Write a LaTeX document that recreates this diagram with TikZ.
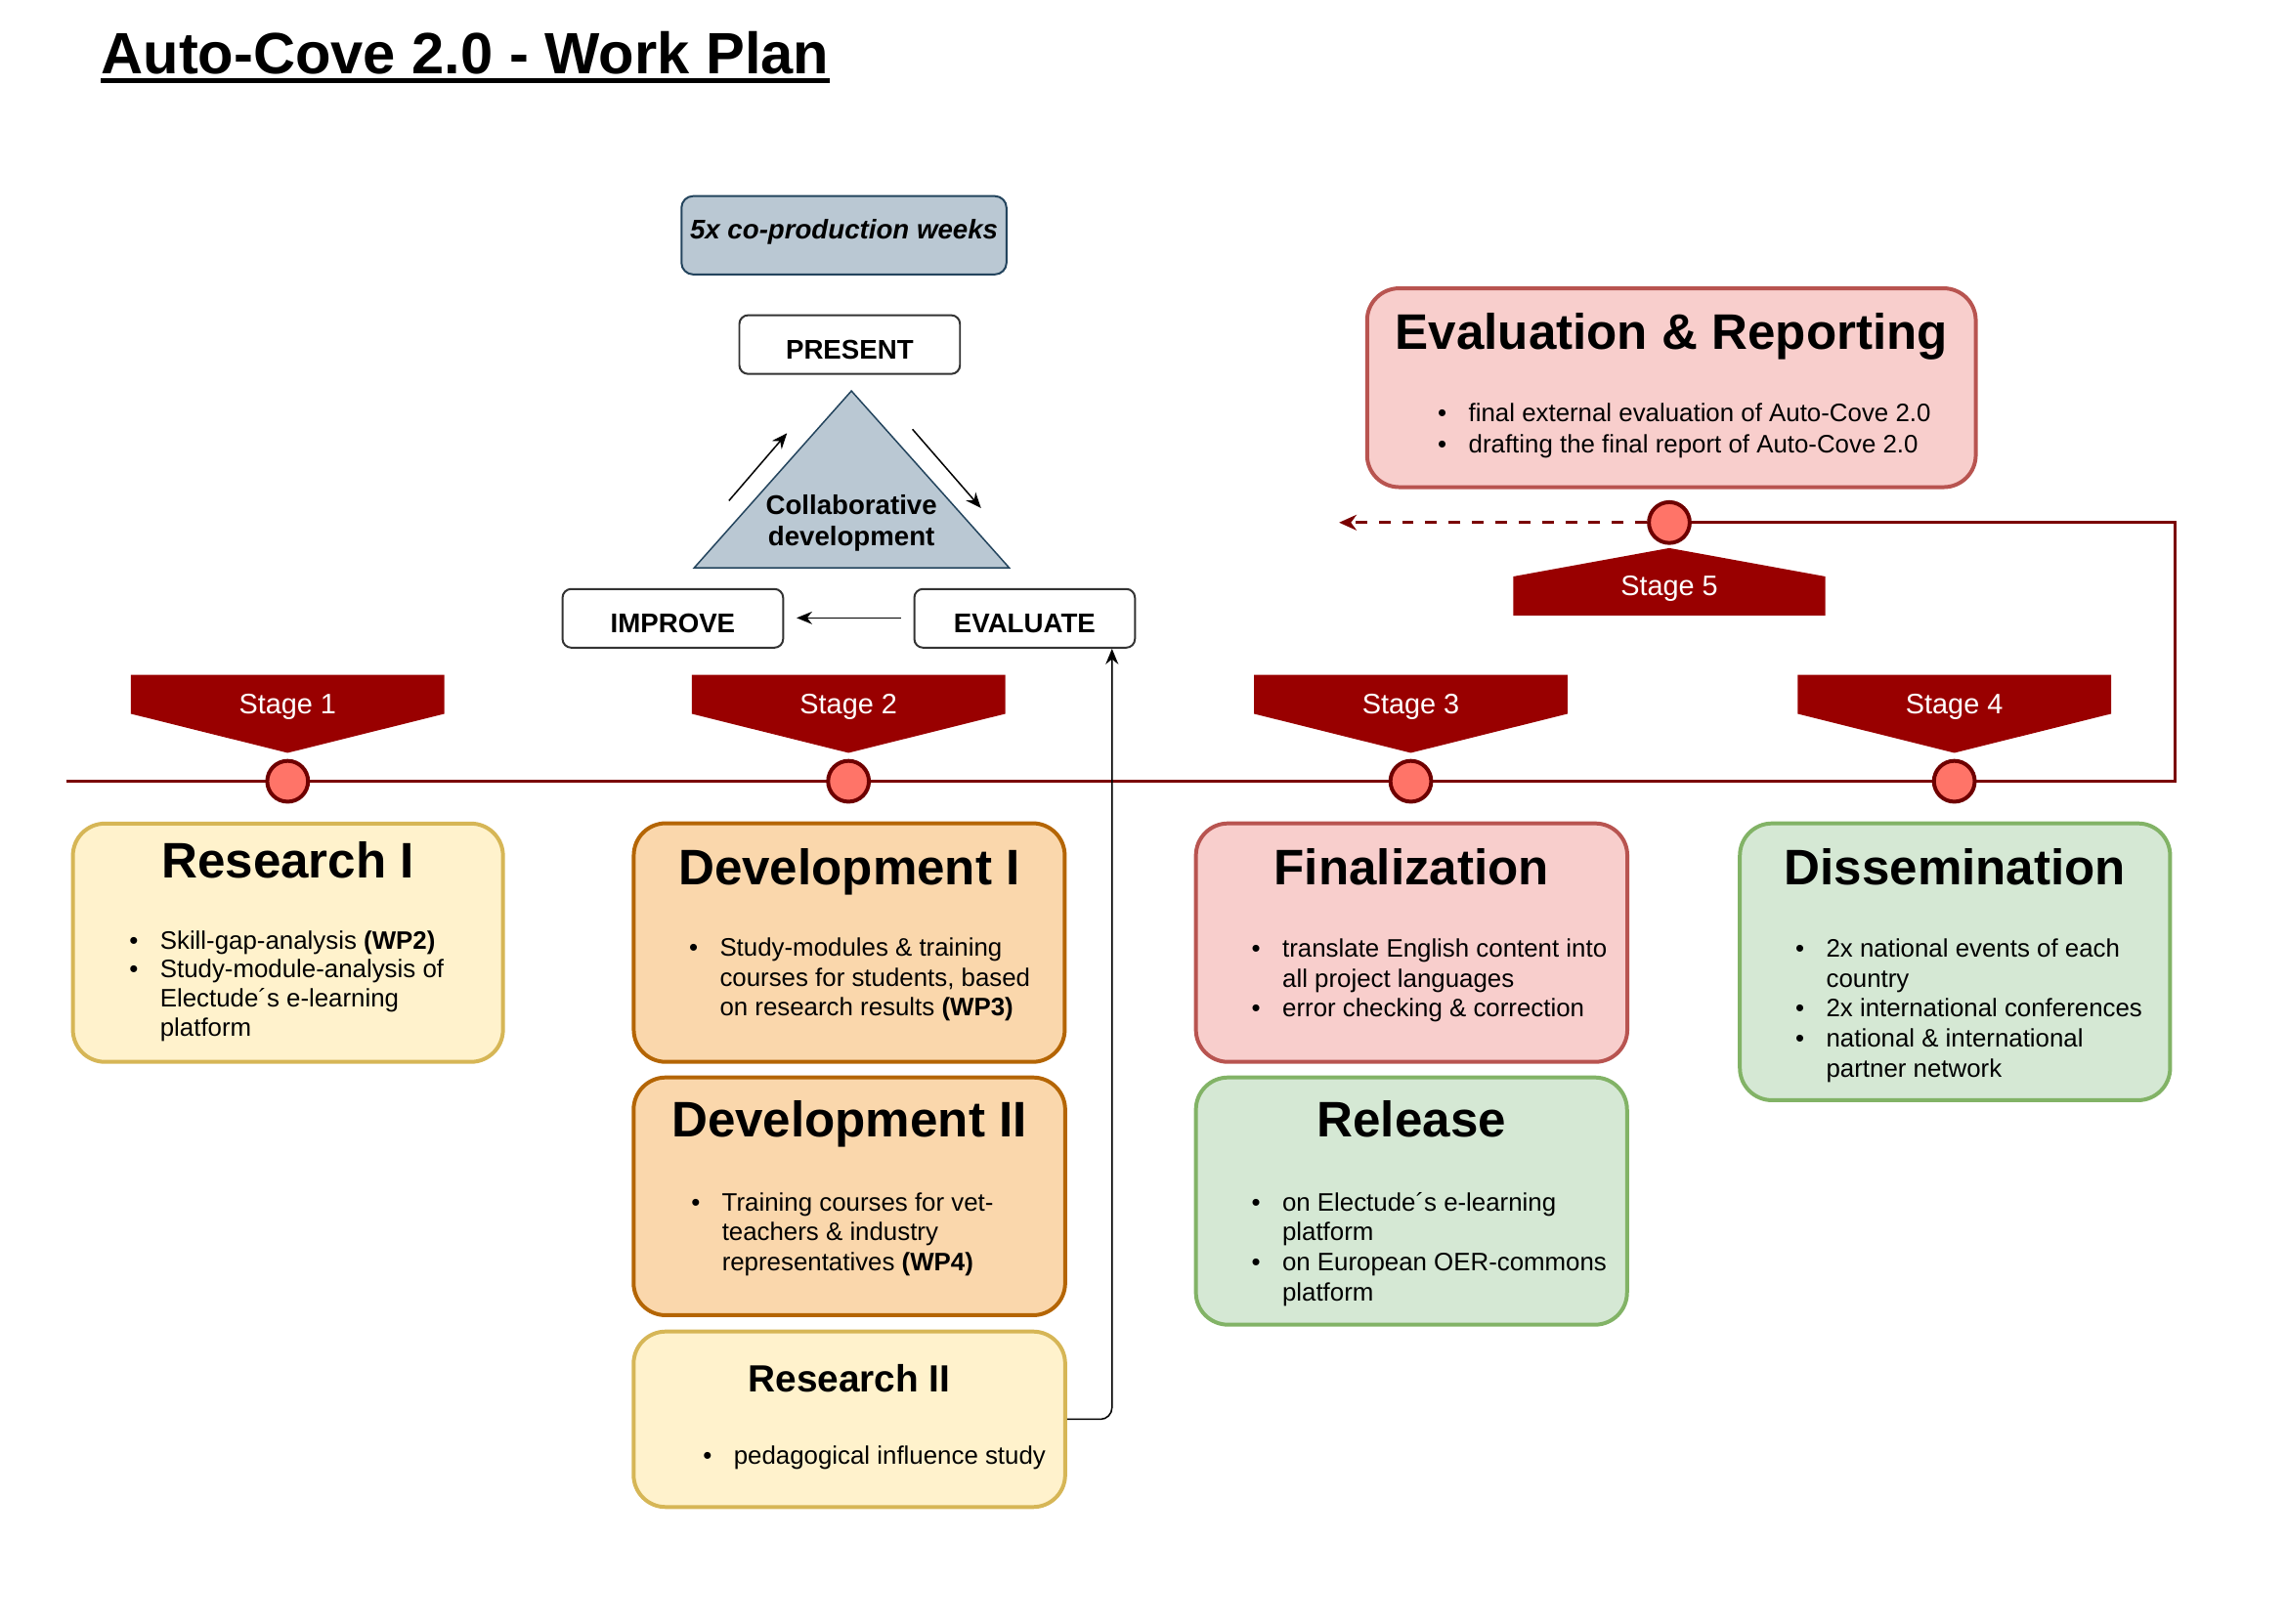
\documentclass[tikz,border=0pt]{standalone}
\usepackage{fontspec}
\setmainfont{Liberation Sans}
\usetikzlibrary{arrows.meta,fit,positioning}

\definecolor{stageRed}{HTML}{990000}
\definecolor{lineRed}{HTML}{7A0000}
\definecolor{dotFill}{HTML}{FF7468}
\definecolor{dotDraw}{HTML}{6F0000}
\definecolor{yellowFill}{HTML}{FFF2CC}
\definecolor{yellowDraw}{HTML}{D6B656}
\definecolor{orangeFill}{HTML}{FAD7AC}
\definecolor{orangeDraw}{HTML}{B46504}
\definecolor{redFill}{HTML}{F8CECC}
\definecolor{redDraw}{HTML}{B85450}
\definecolor{greenFill}{HTML}{D5E8D4}
\definecolor{greenDraw}{HTML}{82B366}
\definecolor{blueFill}{HTML}{BAC8D3}
\definecolor{blueDraw}{HTML}{23445D}

\newcommand\stageTop{463}
\newcommand\stageSide{489.7}
\newcommand\stageTip{516.5}
\newcommand\stageHalf{107.5}
\newcommand\timelineY{536}

\tikzset{
	timeLine/.style={draw=lineRed, line width=1.5pt},
	markerDot/.style={circle, fill=dotFill, draw=dotDraw, line width=2pt, minimum size=21pt, inner sep=0pt},
	stageLabel/.style={text=white, font=\fontsize{14.5}{17}\selectfont, anchor=base, inner sep=0pt},
	workBox/.style={rounded corners=16.5pt, line width=2pt, inner sep=0pt},
	boxYellow/.style={workBox, fill=yellowFill, draw=yellowDraw},
	boxOrange/.style={workBox, fill=orangeFill, draw=orangeDraw},
	boxRed/.style={workBox, fill=redFill, draw=redDraw},
	boxGreen/.style={workBox, fill=greenFill, draw=greenDraw},
	boxTitle/.style={font=\bfseries\fontsize{25.7}{30}\selectfont, anchor=base, inner sep=0pt},
	bulletText/.style={anchor=base west, inner sep=0pt},
	cycleBox/.style={draw=black!80, fill=white, rounded corners=4.5pt, line width=1pt, minimum width=113.5pt, minimum height=30.2pt, inner sep=0pt, font=\bfseries\fontsize{13.9}{16}\selectfont, text height=15pt, text depth=0pt},
	cycleArrow/.style={-{Stealth[length=8pt,width=6.5pt]}, line width=0.75pt},
}

\newcommand\bulletList[2]{{\fontsize{13}{#1}\selectfont\begin{tabular}[t]{@{}p{15.8pt}@{}l@{}}#2\end{tabular}}}

\newcommand\drawStageBanners{
	\foreach \x/\n in {197.3/1,582/2,967.7/3,1340.5/4}{
		\fill[stageRed] (\x-\stageHalf,\stageTop) -- (\x+\stageHalf,\stageTop) -- (\x+\stageHalf,\stageSide) -- (\x,\stageTip) -- (\x-\stageHalf,\stageSide) -- cycle;
		\node[stageLabel] (stage\n) at (\x,490) {Stage \n};
		\node[markerDot] (dot\n) at (\x,\timelineY) {};
	}
}

\begin{document}
\begin{tikzpicture}[x=0.75pt, y=-0.75pt]

	\useasboundingbox (0,0) rectangle (1568,1114);

	\node[anchor=base west, inner sep=0pt, font=\bfseries\fontsize{30}{36}\selectfont] (title) at (69.1,50.9) {Auto-Cove 2.0 - Work Plan};
	\draw[line width=2.7pt] ([yshift=-3.4pt]title.base west) -- ([yshift=-3.4pt]title.base east);

	\node[draw=blueDraw, fill=blueFill, rounded corners=6pt, line width=1pt, minimum width=167.2pt, minimum height=40.3pt, inner sep=0pt, font=\bfseries\itshape\fontsize{13.9}{16}\selectfont, text height=10pt, text depth=5.8pt] (weeks) at (578.9,161.4) {5x co-production weeks};
	\node[cycleBox] (present) at (582.8,236.4) {PRESENT};
	\node[cycleBox] (improve) at (461.5,424.2) {IMPROVE};
	\node[cycleBox] (evaluate) at (702.8,424.2) {EVALUATE};
	\filldraw[fill=blueFill, draw=blueDraw, line width=0.75pt] (584,268.2) -- (692.2,389.5) -- (476.2,389.5) -- cycle;
	\node[anchor=base, inner sep=0pt, font=\bfseries\fontsize{13.9}{16}\selectfont] (collab) at (584,353) {\begin{tabular}[t]{@{}c@{}}Collaborative\\development\end{tabular}};

	\coordinate (upFrom) at (500,343.5);
	\coordinate (upTo) at (539.8,297.2);
	\coordinate (downFrom) at (625.9,294.5);
	\coordinate (downTo) at (672.9,348.6);
	\coordinate (backFrom) at (618.2,423.9);
	\coordinate (backTo) at (546.4,423.9);
	\draw[cycleArrow] (upFrom) -- (upTo);
	\draw[cycleArrow] (downFrom) -- (downTo);
	\draw[cycleArrow] (backFrom) -- (backTo);

	\coordinate (tlStart) at (45.3,\timelineY);
	\coordinate (tlCorner) at (1491.9,\timelineY);
	\coordinate (tlTop) at (1491.9,358.5);
	\coordinate (s5) at (1145,358.5);
	\coordinate (loopEnd) at (918.5,358.5);
	\draw[timeLine] (tlStart) -- (tlCorner) -- (tlTop) -- (s5);

	\drawStageBanners
	\fill[stageRed] (1145,376) -- (1252,395.5) -- (1252,422.3) -- (1038,422.3) -- (1038,395.5) -- cycle;
	\node[stageLabel] (stage5) at (1145,408.3) {Stage 5};
	\node[markerDot] (dot5) at (s5) {};
	\draw[timeLine, dash pattern=on 6pt off 6pt, -{Stealth[length=9pt,width=8pt]}] (dot5) -- (loopEnd);

	\node[boxRed, fit={(937.7,197.8) (1355.2,334.2)}] (evalrep) {};
	\node[boxTitle] (evalrepTitle) at (1146.5,239.9) {Evaluation \& Reporting};
	\node[bulletText] (evalrepList) at (986,289.5) {\bulletList{16.1pt}{\textbullet & final external evaluation of Auto-Cove 2.0\\ \textbullet & drafting the final report of Auto-Cove 2.0}};

	\node[boxYellow, fit={(50,565) (345,728.5)}] (res1) {};
	\node[boxTitle] (res1Title) at (197.5,602.2) {Research I};
	\node[bulletText] (res1List) at (88.5,651) {\bulletList{15pt}{\textbullet & Skill-gap-analysis \textbf{(WP2)}\\ \textbullet & Study-module-analysis of\\ & Electude´s e-learning\\ & platform}};

	\node[boxOrange, fit={(434.7,564.8) (730.3,728.5)}] (dev1) {};
	\node[boxTitle] (dev1Title) at (582.5,606.7) {Development I};
	\node[bulletText] (dev1List) at (472.4,655.8) {\bulletList{15.5pt}{\textbullet & Study-modules \& training\\ & courses for students, based\\ & on research results \textbf{(WP3)}}};

	\node[boxOrange, fit={(434.6,739.2) (730.6,902.3)}] (dev2) {};
	\node[boxTitle] (dev2Title) at (582.5,780.3) {Development II};
	\node[bulletText] (dev2List) at (473.9,830.6) {\bulletList{15.5pt}{\textbullet & Training courses for vet-\\ & teachers \& industry\\ & representatives \textbf{(WP4)}}};

	\node[boxYellow, fit={(434.6,913.5) (730.6,1033.9)}] (res2) {};
	\node[boxTitle, font=\bfseries\fontsize{19.5}{23}\selectfont] (res2Title) at (582.5,954.8) {Research II};
	\node[bulletText] (res2List) at (482,1004.4) {\bulletList{15.5pt}{\textbullet & pedagogical influence study}};

	\node[boxRed, fit={(820.3,564.9) (1116.2,728.5)}] (fin) {};
	\node[boxTitle] (finTitle) at (968.2,606.7) {Finalization};
	\node[bulletText] (finList) at (858.3,656.5) {\bulletList{15.5pt}{\textbullet & translate English content into\\ & all project languages\\ \textbullet & error checking \& correction}};

	\node[boxGreen, fit={(820.3,739.2) (1116,908.8)}] (rel) {};
	\node[boxTitle] (relTitle) at (968.2,780.3) {Release};
	\node[bulletText] (relList) at (858.2,830.6) {\bulletList{15.5pt}{\textbullet & on Electude´s e-learning\\ & platform\\ \textbullet & on European OER-commons\\ & platform}};

	\node[boxGreen, fit={(1193.4,564.9) (1488.5,754.8)}] (diss) {};
	\node[boxTitle] (dissTitle) at (1341,606.7) {Dissemination};
	\node[bulletText] (dissList) at (1231.3,656.5) {\bulletList{15.5pt}{\textbullet & 2x national events of each\\ & country\\ \textbullet & 2x international conferences\\ \textbullet & national \& international\\ & partner network}};

	\draw[cycleArrow, rounded corners=6pt] (res2.east) -| ([xshift=-12.3pt]evaluate.south east);

\end{tikzpicture}
\end{document}
